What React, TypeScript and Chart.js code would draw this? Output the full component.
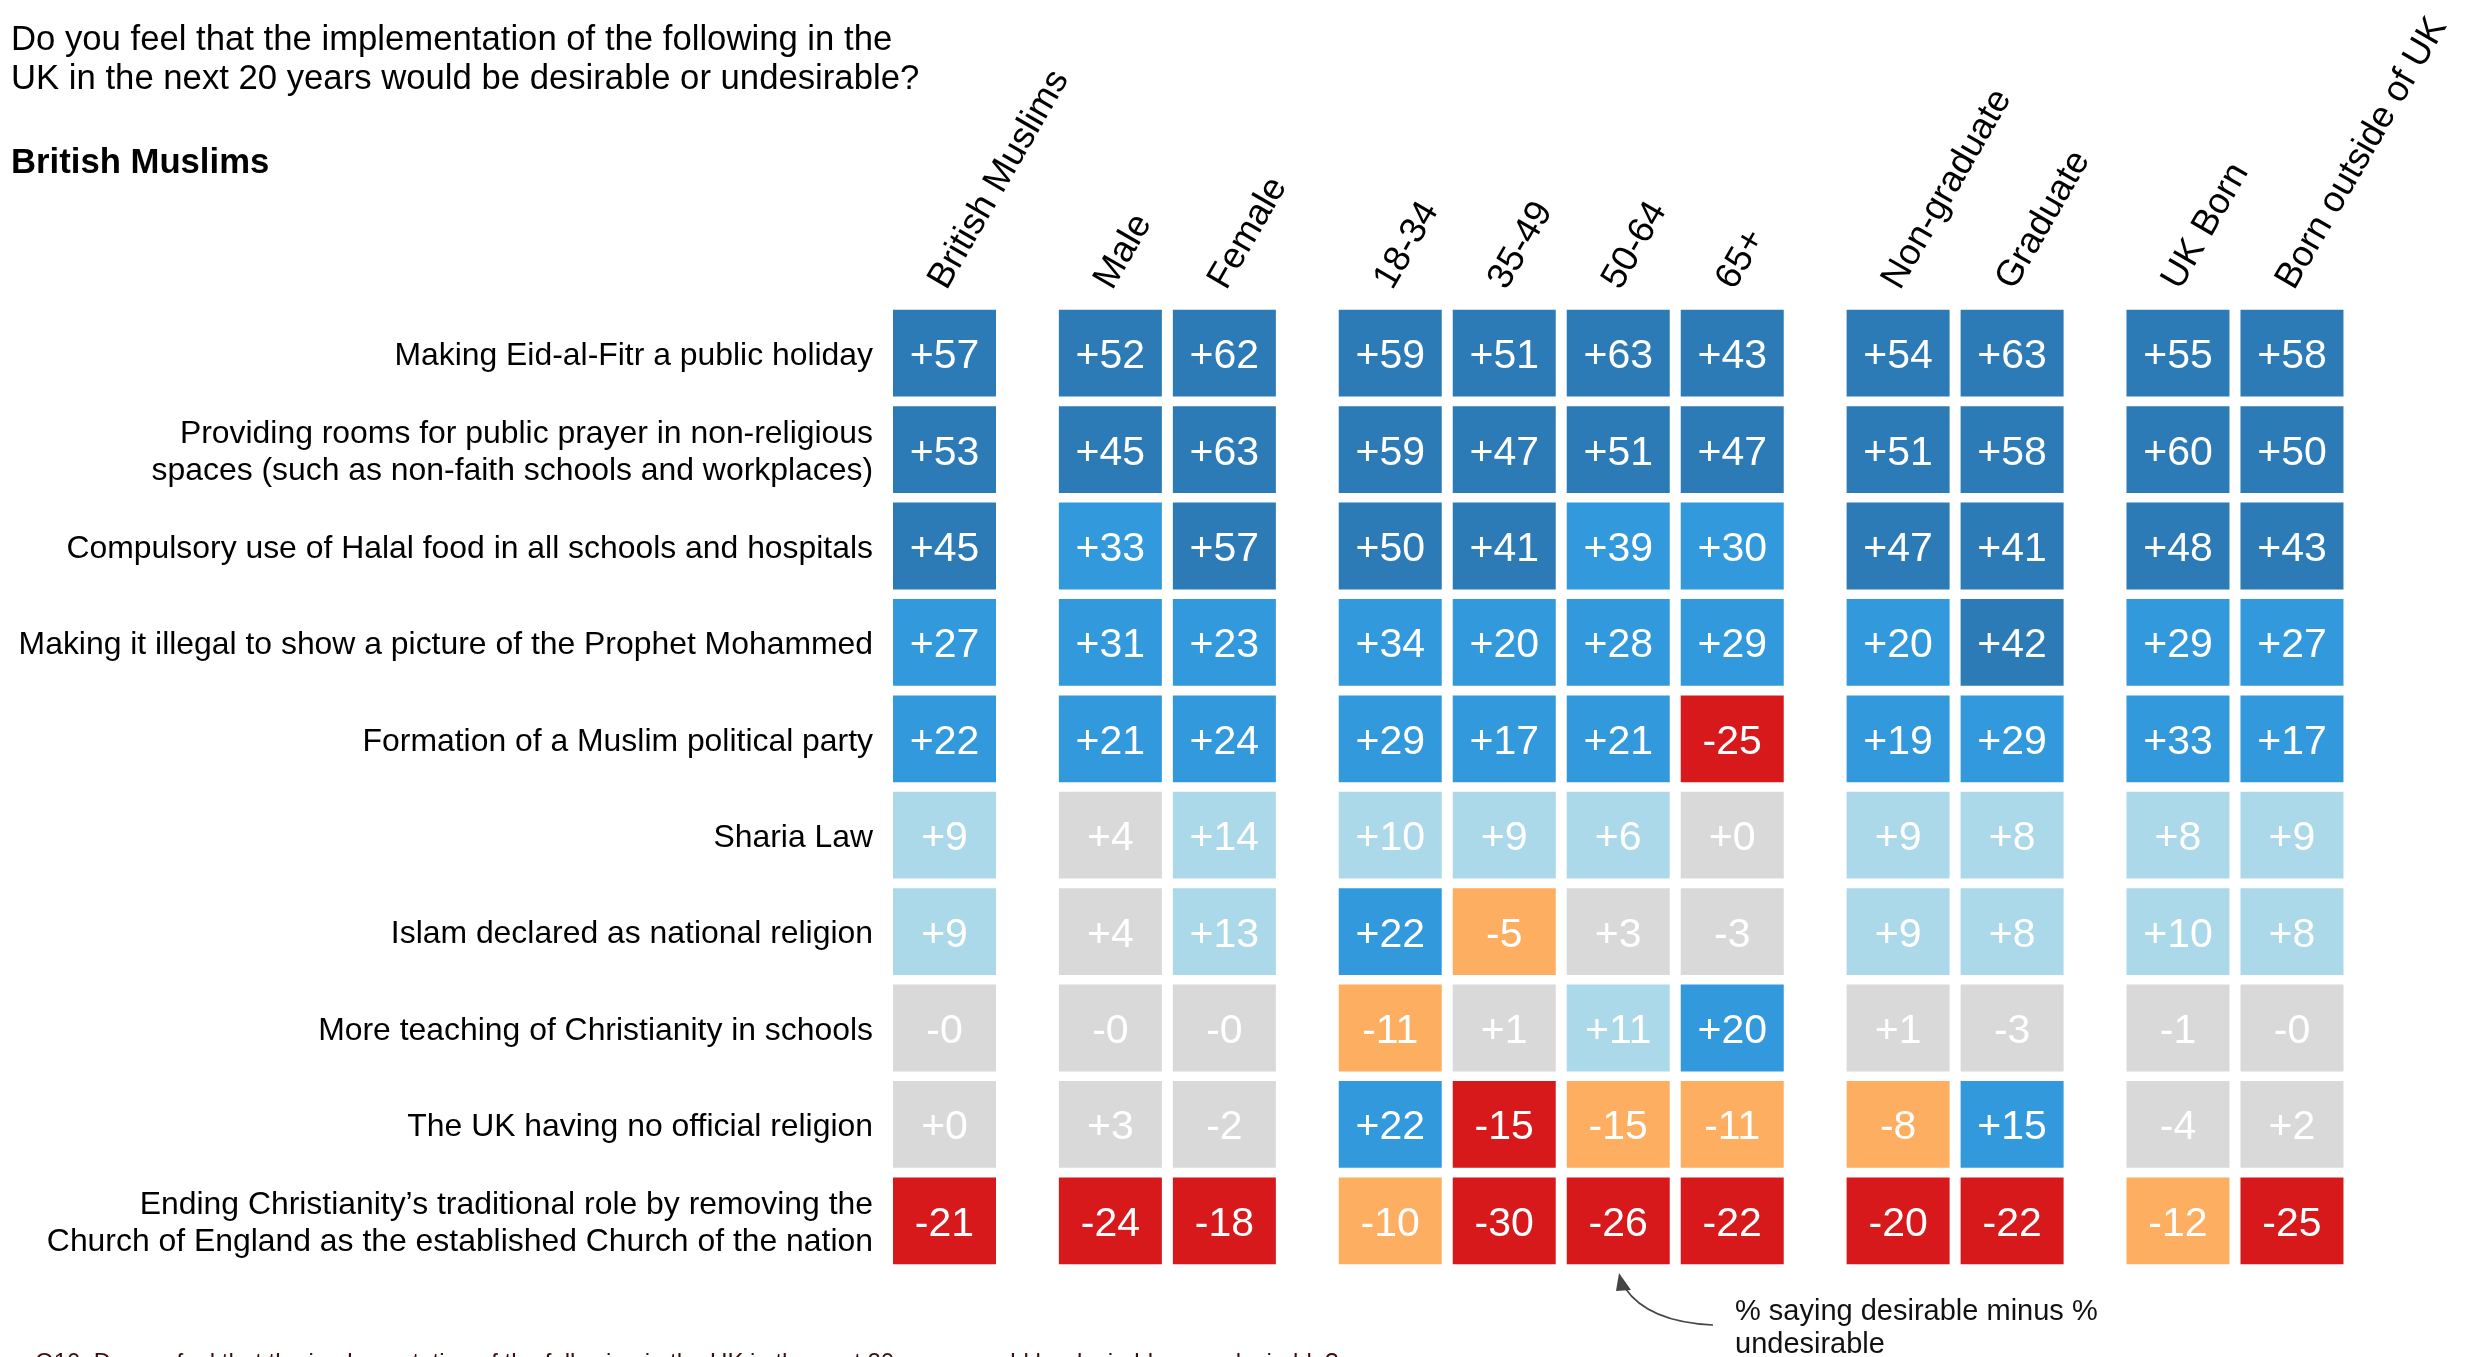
import React, { useEffect, useRef } from 'react';
import { Chart, registerables } from 'chart.js';

Chart.register(...registerables);

const FONT = '"Liberation Sans", Arial, sans-serif';

const titleLines = [
  'Do you feel that the implementation of the following in the',
  'UK in the next 20 years would be desirable or undesirable?',
];
const subtitle = 'British Muslims';
const annotationLines = ['% saying desirable minus %', 'undesirable'];
const footnote =
  'Q10. Do you feel that the implementation of the following in the UK in the next 20 years would be desirable or undesirable?';

const rowLabels: (string | string[])[] = [
  'Making Eid-al-Fitr a public holiday',
  ['Providing rooms for public prayer in non-religious', 'spaces (such as non-faith schools and workplaces)'],
  'Compulsory use of Halal food in all schools and hospitals',
  'Making it illegal to show a picture of the Prophet Mohammed',
  'Formation of a Muslim political party',
  'Sharia Law',
  'Islam declared as national religion',
  'More teaching of Christianity in schools',
  'The UK having no official religion',
  ['Ending Christianity\u2019s traditional role by removing the', 'Church of England as the established Church of the nation'],
];

const columnLabels = [
  'British Muslims', 'Male', 'Female', '18-34', '35-49', '50-64', '65+',
  'Non-graduate', 'Graduate', 'UK Born', 'Born outside of UK',
];
const columnGroups = [0, 1, 1, 2, 2, 2, 2, 3, 3, 4, 4];

// net % desirable minus % undesirable (rounded values shown on cells)
const britishMuslims = [57, 53, 45, 27, 22, 9, 9, -0.2, 0.2, -21];
const male = [52, 45, 33, 31, 21, 4, 4, -0.2, 3, -24];
const female = [62, 63, 57, 23, 24, 14, 13, -0.2, -2, -18];
const age18to34 = [59, 59, 50, 34, 29, 10, 22, -11, 22, -10];
const age35to49 = [51, 47, 41, 20, 17, 9, -5, 1, -15, -30];
const age50to64 = [63, 51, 39, 28, 21, 6, 3, 11, -14.6, -26];
const age65plus = [43, 47, 30, 29, -25, 0.2, -3, 20, -11, -22];
const nonGraduate = [54, 51, 47, 20, 19, 9, 9, 1, -8, -20];
const graduate = [63, 58, 41, 42, 29, 8, 8, -3, 15, -22];
const ukBorn = [55, 60, 48, 29, 33, 8, 10, -1, -4, -12];
const bornOutsideUK = [58, 50, 43, 27, 17, 9, 8, -0.2, 2, -25];

const columns = [
  britishMuslims, male, female, age18to34, age35to49, age50to64, age65plus,
  nonGraduate, graduate, ukBorn, bornOutsideUK,
];

const GROUP_GAP = 0.455;
const CELL_W = 0.9035;

function colorFor(v: number): string {
  if (v >= 40) return '#2C7BB6';
  if (v >= 14.5) return '#3399DD';
  if (v >= 4.5) return '#ABD9E9';
  if (v > -4.5) return '#D9D9D9';
  if (v > -15) return '#FDAE61';
  return '#D7191C';
}

function fmt(v: number): string {
  return (v < 0 ? '-' : '+') + Math.abs(Math.round(v));
}

function colStart(k: number): number {
  return k + GROUP_GAP * columnGroups[k];
}

const overlayPlugin = {
  id: 'overlay',
  afterDatasetsDraw(chart: any) {
    const ctx = chart.ctx;
    ctx.save();
    ctx.fillStyle = '#ffffff';
    ctx.font = `41px ${FONT}`;
    ctx.textAlign = 'center';
    ctx.textBaseline = 'alphabetic';
    chart.data.datasets.forEach((ds: any, di: number) => {
      const meta = chart.getDatasetMeta(di);
      meta.data.forEach((el: any, i: number) => {
        const cx = (el.x + el.base) / 2;
        ctx.fillText(fmt(ds.values[i]), cx, el.y + 15);
      });
    });
    ctx.restore();
  },
  afterDraw(chart: any) {
    const ctx = chart.ctx;
    const xs = chart.scales.x;
    ctx.save();
    ctx.fillStyle = '#000';
    ctx.textAlign = 'left';
    ctx.textBaseline = 'alphabetic';
    ctx.font = `34.7px ${FONT}`;
    ctx.fillText(titleLines[0], 11, 50);
    ctx.fillText(titleLines[1], 11, 89);
    ctx.font = `bold 34.7px ${FONT}`;
    ctx.fillText(subtitle, 11, 173);

    // column headers
    ctx.font = `36.5px ${FONT}`;
    columnLabels.forEach((lab, k) => {
      const cx = xs.getPixelForValue(colStart(k) + CELL_W / 2);
      ctx.save();
      ctx.translate(cx + 2, 291);
      ctx.rotate((-60 * Math.PI) / 180);
      ctx.fillText(lab, 0, 0);
      ctx.restore();
    });

    // annotation
    ctx.font = `29px ${FONT}`;
    ctx.fillStyle = '#111';
    ctx.fillText(annotationLines[0], 1735, 1320);
    ctx.fillText(annotationLines[1], 1735, 1353);

    ctx.strokeStyle = '#444';
    ctx.lineWidth = 1.6;
    ctx.beginPath();
    ctx.moveTo(1713, 1325);
    ctx.quadraticCurveTo(1648, 1322, 1625, 1288);
    ctx.stroke();
    ctx.fillStyle = '#444';
    ctx.beginPath();
    ctx.moveTo(1619, 1273);
    ctx.lineTo(1631, 1290);
    ctx.lineTo(1616, 1291);
    ctx.closePath();
    ctx.fill();

    // footnote
    ctx.fillStyle = '#3a0f0f';
    ctx.font = `24px ${FONT}`;
    ctx.fillText(footnote, 35, 1370);
    ctx.restore();
  },
};

export default function App() {
  const ref = useRef<HTMLCanvasElement | null>(null);
  useEffect(() => {
    document.body.style.margin = '0';
    const canvas = ref.current;
    if (!canvas) return;
    Chart.defaults.font.family = FONT;
    const datasets = columns.map((vals, k) => {
      const s = colStart(k);
      return {
        label: columnLabels[k],
        values: vals,
        data: vals.map(() => [s, s + CELL_W]),
        backgroundColor: vals.map(colorFor),
        borderWidth: 0,
        borderSkipped: false,
        grouped: false,
        barPercentage: 0.9,
        categoryPercentage: 1,
      };
    });
    const chart = new Chart(canvas, {
      type: 'bar',
      data: { labels: rowLabels as any, datasets: datasets as any },
      options: {
        indexAxis: 'y',
        responsive: false,
        animation: false,
        devicePixelRatio: 1,
        layout: { padding: { left: 0, right: 101, top: 305, bottom: 88 } },
        plugins: { legend: { display: false }, tooltip: { enabled: false }, title: { display: false } },
        scales: {
          x: { type: 'linear', min: 0, max: 13, display: false },
          y: {
            type: 'category',
            grid: { display: false, drawTicks: false },
            border: { display: false },
            ticks: {
              color: '#000',
              padding: 20,
              autoSkip: false,
              labelOffset: 3,
              font: { size: 31.9, lineHeight: 1.14, family: FONT },
            },
            afterFit: (scale: any) => {
              scale.width = 893;
            },
          },
        },
      } as any,
      plugins: [overlayPlugin],
    });
    return () => chart.destroy();
  }, []);
  return (
    <div style={{ position: 'fixed', left: 0, top: 0, width: 2476, height: 1357, background: '#fff' }}>
      <canvas ref={ref} width={2476} height={1357} style={{ display: 'block' }} />
    </div>
  );
}
